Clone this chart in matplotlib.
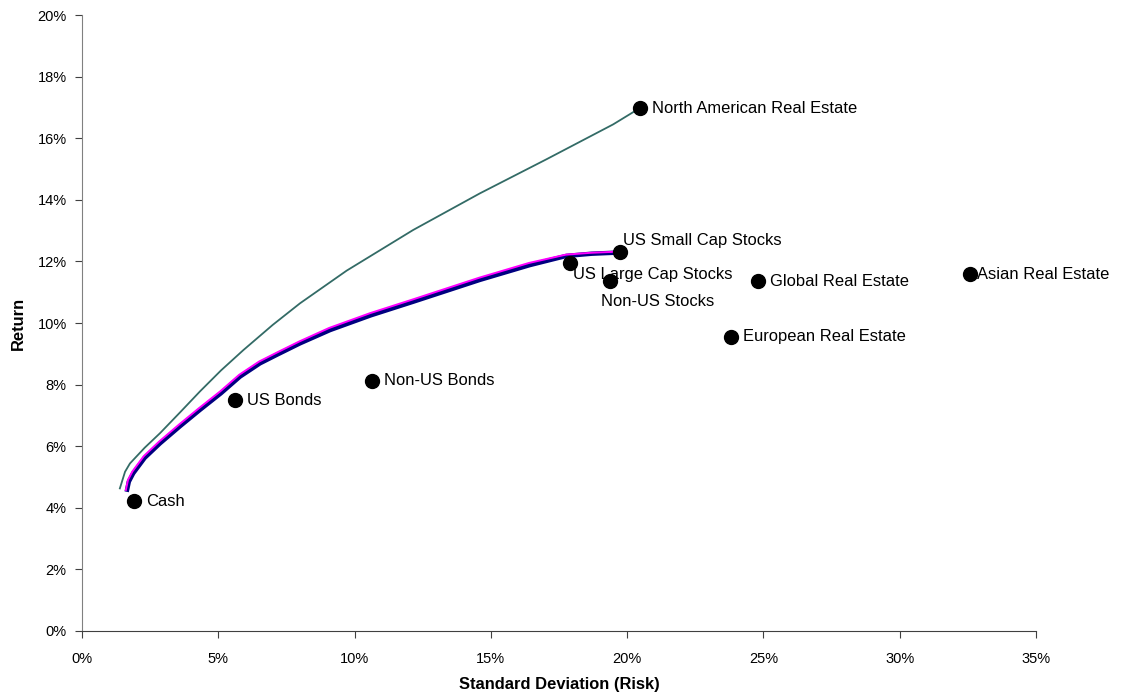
import matplotlib
matplotlib.use("Agg")
import matplotlib.pyplot as plt
from matplotlib.ticker import FuncFormatter, MultipleLocator

plt.rcParams['font.family'] = ['Liberation Sans', 'DejaVu Sans']

# Asset classes: risk (std dev, %) and return (%)
assets = ["Cash", "US Bonds", "Non-US Bonds", "US Large Cap Stocks",
          "US Small Cap Stocks", "Non-US Stocks", "North American Real Estate",
          "Global Real Estate", "European Real Estate", "Asian Real Estate"]
asset_risk = [1.91, 5.61, 10.64, 17.90, 19.74, 19.37, 20.47, 24.80, 23.81, 32.57]
asset_return = [4.22, 7.50, 8.12, 11.95, 12.31, 11.36, 16.98, 11.36, 9.55, 11.59]

# Efficient frontier including North American real estate
frontier_re_risk = [1.39, 1.58, 1.76, 2.30, 2.86, 3.60, 4.33, 5.10, 5.92, 7.00,
                    8.00, 9.71, 12.15, 14.60, 17.05, 19.49, 20.47]
frontier_re_return = [4.63, 5.17, 5.44, 5.95, 6.42, 7.10, 7.78, 8.46, 9.12, 9.94,
                      10.64, 11.70, 13.02, 14.21, 15.32, 16.45, 16.98]

# Efficient frontier of the traditional assets (two nearly identical runs)
frontier_a_risk = [1.64, 1.72, 1.88, 2.30, 2.86, 3.60, 4.33, 5.10, 5.80, 6.53,
                   7.20, 8.00, 9.10, 10.60, 12.15, 14.60, 16.43, 17.78, 18.70,
                   19.49, 19.74]
frontier_a_return = [4.52, 4.85, 5.12, 5.62, 6.09, 6.65, 7.18, 7.72, 8.26, 8.69,
                     8.99, 9.34, 9.77, 10.25, 10.69, 11.40, 11.88, 12.18, 12.25,
                     12.28, 12.31]
frontier_b_risk = [1.61, 1.69, 1.85, 2.27, 2.83, 3.57, 4.30, 5.07, 5.77, 6.50,
                   7.17, 7.97, 9.07, 10.57, 12.12, 14.57, 16.40, 17.75, 18.67,
                   19.46, 19.74]
frontier_b_return = [4.58, 4.91, 5.18, 5.68, 6.15, 6.71, 7.24, 7.78, 8.32, 8.75,
                     9.05, 9.40, 9.84, 10.32, 10.76, 11.47, 11.95, 12.22, 12.28,
                     12.31, 12.33]

# Label placement (offset in points from each marker)
label_offsets = {
    "Cash": (9, 0), "US Bonds": (9, 0), "Non-US Bonds": (9, 0),
    "US Large Cap Stocks": (2, -8.6), "US Small Cap Stocks": (2, 8.0),
    "Non-US Stocks": (-6.5, -14.4), "North American Real Estate": (9, 0),
    "Global Real Estate": (9, 0), "European Real Estate": (9, 0),
    "Asian Real Estate": (5, 0),
}

fig = plt.figure(figsize=(11.26, 6.96), dpi=100)
ax = fig.add_axes([0.0728, 0.0934, 0.8472, 0.885])

ax.plot(frontier_re_risk, frontier_re_return, color="#336b66", lw=1.3)
ax.plot(frontier_a_risk, frontier_a_return, color="#000080", lw=3.2,
        solid_capstyle="butt")
ax.plot(frontier_b_risk, frontier_b_return, color="#ff00ff", lw=1.4)

ax.plot(asset_risk, asset_return, "o", color="black", markersize=10, ls="none",
        zorder=5)
for name, x, y in zip(assets, asset_risk, asset_return):
    dx, dy = label_offsets[name]
    ax.annotate(name, (x, y), xytext=(dx, dy), textcoords="offset points",
                ha="left", va="center", fontsize=11.9, color="black", zorder=6)

ax.set_xlim(0, 35)
ax.set_ylim(0, 20)
ax.xaxis.set_major_locator(MultipleLocator(5))
ax.yaxis.set_major_locator(MultipleLocator(2))
pct = FuncFormatter(lambda v, _: f"{v:.0f}%")
ax.xaxis.set_major_formatter(pct)
ax.yaxis.set_major_formatter(pct)

for side in ("top", "right"):
    ax.spines[side].set_visible(False)
ax.spines["left"].set_color("#808080")
ax.spines["bottom"].set_color("#404040")
ax.tick_params(axis="both", direction="out", length=5, labelsize=10.5,
               colors="black")
ax.tick_params(axis="y", color="#404040", pad=6)
ax.tick_params(axis="x", color="#404040", pad=10)

ax.set_xlabel("Standard Deviation (Risk)", fontsize=11.9, fontweight="bold",
              labelpad=8)
ax.set_ylabel("Return", fontsize=11.9, fontweight="bold", labelpad=8)

fig.savefig("out.png", dpi=100)
